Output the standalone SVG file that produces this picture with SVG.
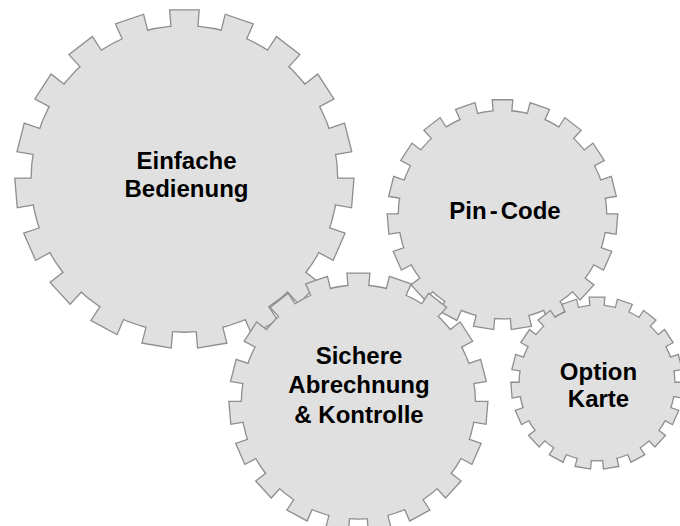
<svg xmlns="http://www.w3.org/2000/svg" xmlns:xlink="http://www.w3.org/1999/xlink" width="680" height="526" viewBox="0 0 680 526">
<style>
.gear-edge { fill: #e0e0e0; stroke: #8e8e8e; stroke-width: 2.6; stroke-linejoin: miter; }
.gear-body { fill: #e0e0e0; stroke: none; }
.label { font-family: "Liberation Sans", Arial, sans-serif; font-weight: 700; font-size: 24px; fill: #000000; text-anchor: middle; }
</style>
<defs>
<polygon id="tooth" vector-effect="non-scaling-stroke" points="-7.36,-87.7 -8.37,-99.65 8.37,-99.65 7.36,-87.7"/>
<g id="gear">
<circle r="90.4" vector-effect="non-scaling-stroke"/>
<use href="#tooth"/>
<use href="#tooth" transform="rotate(18.947)"/>
<use href="#tooth" transform="rotate(37.895)"/>
<use href="#tooth" transform="rotate(56.842)"/>
<use href="#tooth" transform="rotate(75.789)"/>
<use href="#tooth" transform="rotate(94.737)"/>
<use href="#tooth" transform="rotate(113.684)"/>
<use href="#tooth" transform="rotate(132.632)"/>
<use href="#tooth" transform="rotate(151.579)"/>
<use href="#tooth" transform="rotate(170.526)"/>
<use href="#tooth" transform="rotate(189.474)"/>
<use href="#tooth" transform="rotate(208.421)"/>
<use href="#tooth" transform="rotate(227.368)"/>
<use href="#tooth" transform="rotate(246.316)"/>
<use href="#tooth" transform="rotate(265.263)"/>
<use href="#tooth" transform="rotate(284.211)"/>
<use href="#tooth" transform="rotate(303.158)"/>
<use href="#tooth" transform="rotate(322.105)"/>
<use href="#tooth" transform="rotate(341.053)"/>
</g>
</defs>
<g id="connectors"/>
<g id="gear-einfache-bedienung">
<use href="#gear" class="gear-edge" transform="translate(184.4,178.9) scale(1.689)"/>
<use href="#gear" class="gear-body" transform="translate(184.4,178.9) scale(1.689)"/>
<text class="label" x="186.5" y="168.5">Einfache</text>
<text class="label" x="186.5" y="197">Bedienung</text>
</g>
<g id="gear-pin-code">
<use href="#gear" class="gear-edge" transform="translate(502.5,214.6) scale(1.146)"/>
<use href="#gear" class="gear-body" transform="translate(502.5,214.6) scale(1.146)"/>
<text class="label" x="505" y="218.5"><tspan>Pin</tspan><tspan dx="3">-</tspan><tspan dx="3">Code</tspan></text>
</g>
<g id="gear-sichere-abrechnung">
<use href="#gear" class="gear-edge" transform="translate(358.4,402.1) scale(1.288)"/>
<use href="#gear" class="gear-body" transform="translate(358.4,402.1) scale(1.288)"/>
<text class="label" x="359" y="363.5">Sichere</text>
<text class="label" x="359" y="393">Abrechnung</text>
<text class="label" x="359" y="422.5">&amp; Kontrolle</text>
</g>
<g id="gear-option-karte">
<use href="#gear" class="gear-edge" transform="translate(597,383) scale(0.855)"/>
<use href="#gear" class="gear-body" transform="translate(597,383) scale(0.855)"/>
<text class="label" x="598.5" y="379.5">Option</text>
<text class="label" x="598.5" y="407">Karte</text>
</g>
</svg>
